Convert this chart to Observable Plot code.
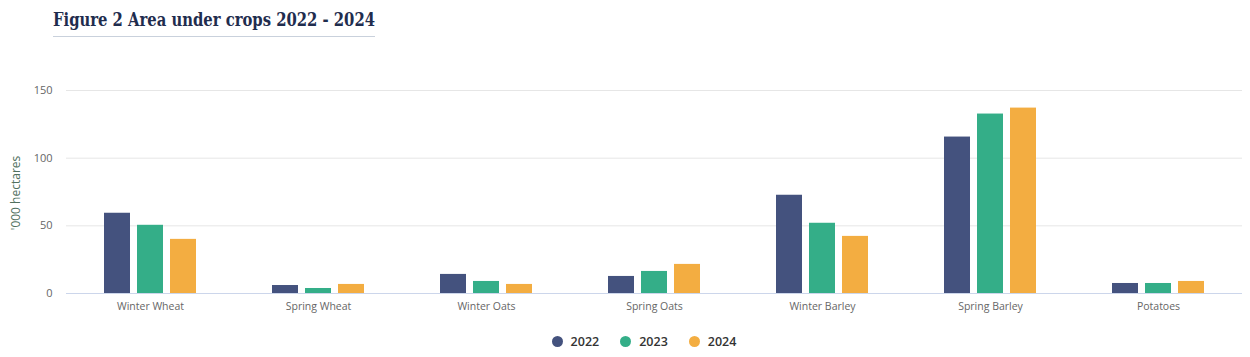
<!DOCTYPE html>
<html>
<head>
<meta charset="utf-8">
<script src="https://cdn.jsdelivr.net/npm/d3@7"></script>
<script src="https://cdn.jsdelivr.net/npm/@observablehq/plot@0.6"></script>
<style>
  html, body { margin: 0; padding: 0; background: #fff; }
  #wrap { position: relative; width: 1250px; height: 357px; overflow: hidden; background: #fff; }
  #title { position: absolute; left: 53px; top: 9px; font-family: "DejaVu Serif", serif; font-weight: bold; font-size: 18px; color: #1f2d4e; white-space: nowrap; transform-origin: 0 0; }
  #rule { position: absolute; left: 53px; top: 36px; width: 322px; height: 1px; background: #c9d1dc; }
  #chart { position: absolute; left: 0; top: 0; }
  #ylabel { position: absolute; left: 15px; top: 193px; transform: translate(-50%, -50%) rotate(-90deg); font-family: "Open Sans", sans-serif; font-size: 12px; color: #51705e; white-space: nowrap; }
  #legend { position: absolute; left: 38px; width: 1212px; top: 333px; display: flex; justify-content: center; font-family: "Open Sans", sans-serif; font-weight: 600; font-size: 12.5px; color: #333; }
  .item { display: flex; align-items: center; margin: 0 10.5px; }
  .dot { width: 11px; height: 11px; border-radius: 50%; margin-right: 8px; }
</style>
</head>
<body>
<div id="wrap">
  <div id="chart"></div>
  <div id="title"></div>
  <div id="rule"></div>
  <div id="ylabel"></div>
  <div id="legend"></div>
</div>
<script>
const titleText = "Figure 2 Area under crops 2022 - 2024";
const yLabel = "'000 hectares";
const crops = ["Winter Wheat", "Spring Wheat", "Winter Oats", "Spring Oats", "Winter Barley", "Spring Barley", "Potatoes"];
const years = ["2022", "2023", "2024"];
const v2022 = [59.3, 5.9, 14.1, 12.6, 72.6, 115.6, 7.4];
const v2023 = [50.4, 3.7, 8.9, 16.3, 51.9, 132.6, 7.4];
const v2024 = [40.0, 6.7, 6.7, 21.5, 42.2, 137.0, 8.9];
const colors = ["#44527e", "#34ae88", "#f3ad41"];
const yTicks = [0, 50, 100, 150];

const series = [v2022, v2023, v2024];
const data = crops.flatMap((c, i) => series.map((s, j) => ({crop: c, year: years[j], value: s[i]})));

const chart = Plot.plot({
  width: 1250,
  height: 320,
  marginLeft: 66,
  marginRight: 8,
  marginTop: 90,
  marginBottom: 27,
  style: {fontFamily: "'Open Sans', sans-serif", fontSize: "10.5px", color: "#666", background: "transparent"},
  fx: {domain: crops, padding: 0, label: null, axis: "bottom", tickSize: 0, tickPadding: 9},
  x: {domain: years, axis: null, paddingInner: 0.224, paddingOuter: 1.12},
  y: {domain: [0, 150], label: null, axis: null},
  color: {domain: years, range: colors},
  marks: [
    Plot.ruleY(yTicks.filter(d => d > 0), {stroke: "#e6e6e6", strokeOpacity: 1}),
    Plot.axisY(yTicks, {tickSize: 0, tickPadding: 14, label: null, fontSize: 11, fill: "#666"}),
    Plot.barY(data, {fx: "crop", x: "year", y: "value", fill: "year"}),
    Plot.ruleY([0], {stroke: "#ccd6eb", strokeOpacity: 1})
  ]
});
document.getElementById("chart").appendChild(chart);

document.getElementById("ylabel").textContent = yLabel;

const t = document.getElementById("title");
t.textContent = titleText;
const w = t.getBoundingClientRect().width;
t.style.transform = `scaleX(${322 / w})`;

const legend = document.getElementById("legend");
years.forEach((y, i) => {
  const item = document.createElement("div");
  item.className = "item";
  const dot = document.createElement("span");
  dot.className = "dot";
  dot.style.background = colors[i];
  const lab = document.createElement("span");
  lab.textContent = y;
  item.appendChild(dot);
  item.appendChild(lab);
  legend.appendChild(item);
});
</script>
</body>
</html>
